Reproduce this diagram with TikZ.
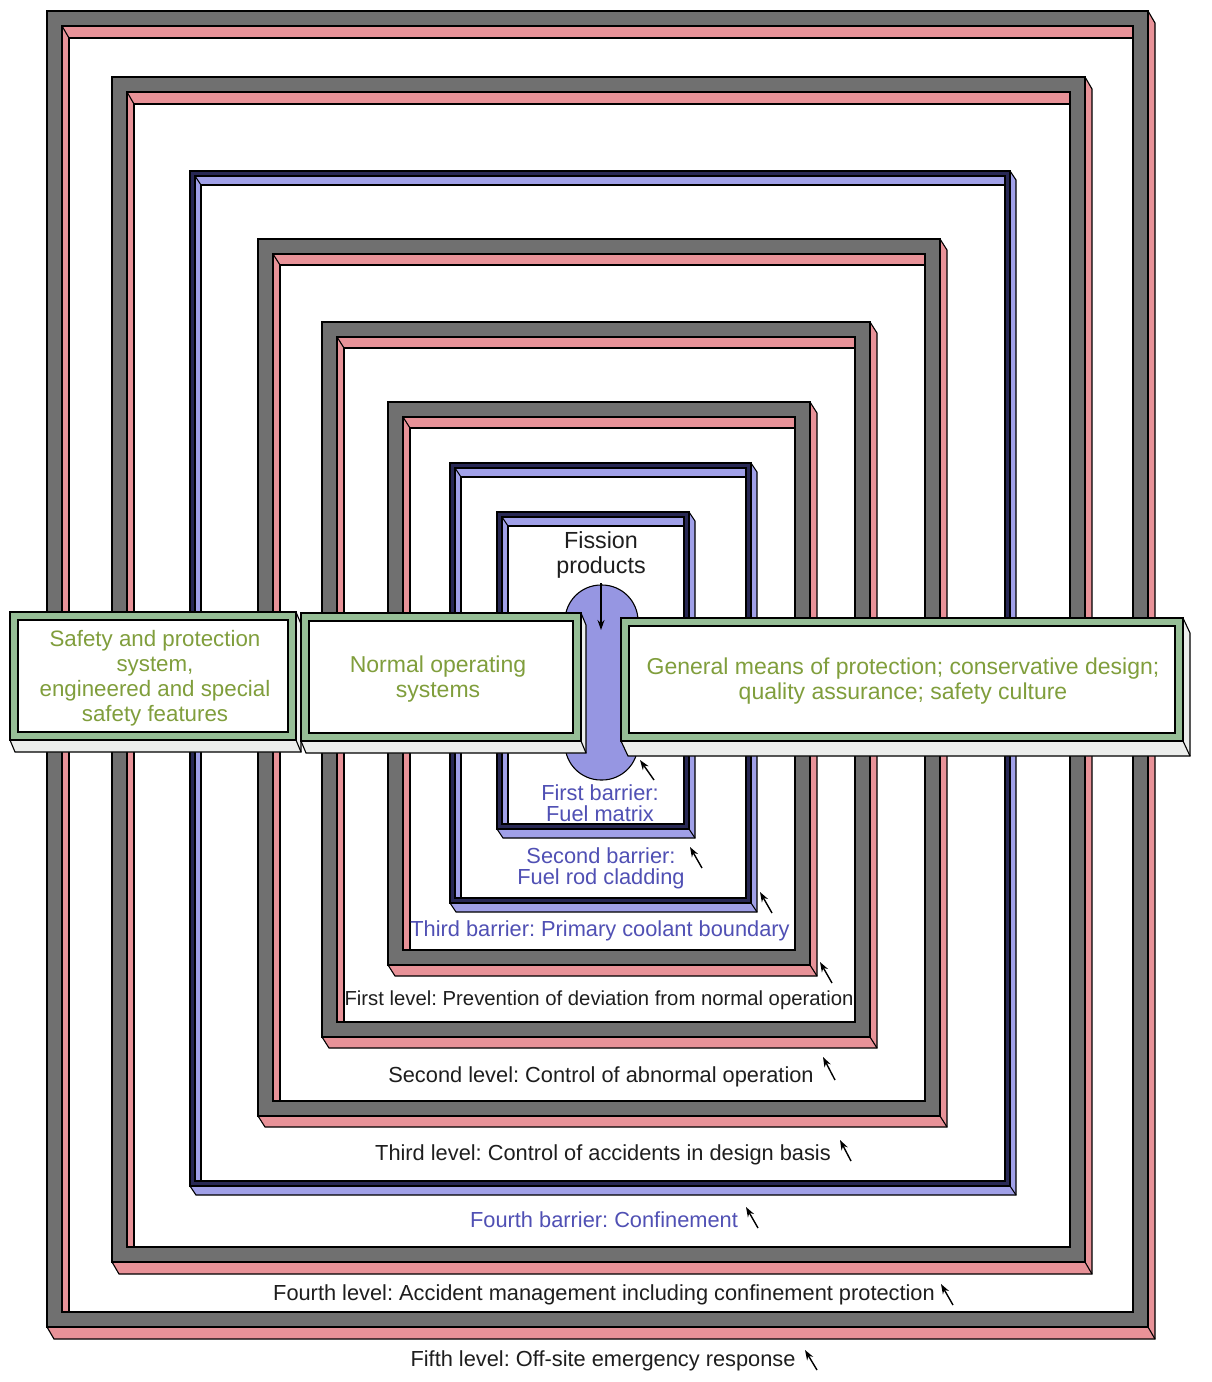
\documentclass[tikz,border=0pt]{standalone}
\usepackage{fontspec}
\setmainfont{Liberation Sans}
\usetikzlibrary{arrows.meta}
\frenchspacing
\definecolor{grayF}{RGB}{112,112,112}
\definecolor{pinkD}{RGB}{232,146,152}
\definecolor{blueF}{RGB}{40,40,85}
\definecolor{blueD}{RGB}{160,160,232}
\definecolor{greenF}{RGB}{150,190,150}
\definecolor{greenD}{RGB}{236,238,236}
\definecolor{greenT}{RGB}{128,158,60}
\definecolor{blueT}{RGB}{80,80,180}
\definecolor{ovalC}{RGB}{150,150,226}
\definecolor{txtK}{RGB}{30,30,30}
% L T R B w dx dy front depth
\newcommand{\dframe}[9]{%
 \path[fill=#9,draw=black,line width=1.1pt] (#1,#2) -- (#3,#2) -- ({#3+#6},{#2+#7}) -- ({#3+#6},{#4+#7}) -- ({#1+#6},{#4+#7}) -- (#1,#4) -- cycle;
 \draw[line width=1.1pt] (#3,#4) -- ({#3+#6},{#4+#7});
 \path[fill=#8,draw=black,line width=1.1pt] (#1,#2) rectangle (#3,#4);
 \path[fill=#9,draw=black,line width=1.1pt] ({#1+#5},{#2+#5}) rectangle ({#3-#5},{#4-#5});
 \fill[white] ({#1+#5+#6},{#2+#5+#7}) rectangle ({#3-#5},{#4-#5});
 \draw[line width=1.1pt] ({#1+#5},{#2+#5}) -- ({#1+#5+#6},{#2+#5+#7});
 \draw[line width=1.1pt] ({#1+#5+#6},{#4-#5}) -- ({#1+#5+#6},{#2+#5+#7}) -- ({#3-#5},{#2+#5+#7});
 \draw[line width=1.1pt] ({#1+#5},{#2+#5}) rectangle ({#3-#5},{#4-#5});
}
\begin{document}
\begin{tikzpicture}[x=1pt,y=-1pt,line join=miter,
  lbl/.style={font=\fontsize{21.8}{25}\selectfont, inner sep=0pt, align=center, text=txtK},
  blbl/.style={lbl, text=blueT, font=\fontsize{21.8}{21}\selectfont},
  glbl/.style={lbl, text=greenT, font=\fontsize{23}{25.5}\selectfont},
  ptr/.style={-{Stealth[length=10pt,width=7pt]}, line width=1.4pt, black}]
\useasboundingbox[fill=white] (0,0) rectangle (1211,1382);

% nested frames (outer to inner)
\dframe{47}{11}{1148}{1327}{15}{7}{12}{grayF}{pinkD}
\dframe{112}{77}{1085}{1262}{15}{7}{12}{grayF}{pinkD}
\dframe{190}{171}{1010}{1186}{5}{6}{9}{blueF}{blueD}
\dframe{258}{239}{940}{1116}{15}{7}{11}{grayF}{pinkD}
\dframe{322}{322}{870}{1037}{15}{7}{11}{grayF}{pinkD}
\dframe{388}{402}{810}{965}{15}{7}{11}{grayF}{pinkD}
\dframe{450}{463}{751}{903}{5}{6}{9}{blueF}{blueD}
\dframe{497}{512}{689}{829}{5}{6}{9}{blueF}{blueD}

% first barrier (fuel matrix)
\path[fill=ovalC,draw=black,line width=1.1pt,rounded corners=36pt] (565,585) rectangle (638,780);

% green boxes
\dframe{10}{612}{296}{740}{8}{5}{12}{greenF}{greenD}
\fill[white] (18,620) rectangle (288,732);
\draw[line width=1.1pt] (18,620) rectangle (288,732);
\dframe{301}{613}{581}{741}{8}{5}{12}{greenF}{greenD}
\fill[white] (309,621) rectangle (573,733);
\draw[line width=1.1pt] (309,621) rectangle (573,733);
\dframe{621}{618}{1183}{741}{8}{7}{15}{greenF}{greenD}
\fill[white] (629,626) rectangle (1175,733);
\draw[line width=1.1pt] (629,626) rectangle (1175,733);

\node[glbl, font=\fontsize{22.3}{25}\selectfont] (tA) at (155,678) {Safety and protection\\system,\\engineered and special\\safety features};
\node[glbl] (tB) at (438,679) {Normal operating\\systems};
\node[glbl] (tC) at (903,681) {General means of protection; conservative design;\\quality assurance; safety culture};

% labels
\node[lbl, font=\fontsize{23.3}{25}\selectfont] (fp) at (601,555) {Fission\\products};
\node[blbl] (b1) at (600,803) {First barrier:\\Fuel matrix};
\node[blbl] (b2) at (601,868) {Second barrier:\\Fuel rod cladding};
\node[blbl] (b3) at (600,931) {Third barrier: Primary coolant boundary};
\node[lbl, font=\fontsize{20.3}{25}\selectfont] (l1) at (599,1000) {First level: Prevention of deviation from normal operation};
\node[lbl] (l2) at (601,1077) {Second level: Control of abnormal operation};
\node[lbl] (l3) at (603,1155) {Third level: Control of accidents in design basis};
\node[blbl] (b4) at (604,1220) {Fourth barrier: Confinement};
\node[lbl] (l4) at (604,1295) {Fourth level: Accident management including confinement protection};
\node[lbl] (l5) at (603,1361) {Fifth level: Off-site emergency response};

% arrows
\coordinate (fpa) at (601,583); \coordinate (fpb) at (601,630);
\coordinate (a1s) at (654,780); \coordinate (a1e) at (640,760);
\coordinate (a2s) at (702,868); \coordinate (a2e) at (690,847);
\coordinate (a3s) at (772,913); \coordinate (a3e) at (760,892);
\coordinate (a4s) at (832,983); \coordinate (a4e) at (820,962);
\coordinate (a5s) at (835,1080); \coordinate (a5e) at (823,1057);
\coordinate (a6s) at (851,1161); \coordinate (a6e) at (840,1140);
\coordinate (a7s) at (758,1228); \coordinate (a7e) at (746,1207);
\coordinate (a8s) at (953,1305); \coordinate (a8e) at (941,1284);
\coordinate (a9s) at (817,1370); \coordinate (a9e) at (805,1350);
\draw[ptr] (fpa) -- (fpb);
\draw[ptr] (a1s) -- (a1e);
\draw[ptr] (a2s) -- (a2e);
\draw[ptr] (a3s) -- (a3e);
\draw[ptr] (a4s) -- (a4e);
\draw[ptr] (a5s) -- (a5e);
\draw[ptr] (a6s) -- (a6e);
\draw[ptr] (a7s) -- (a7e);
\draw[ptr] (a8s) -- (a8e);
\draw[ptr] (a9s) -- (a9e);
\end{tikzpicture}
\end{document}
